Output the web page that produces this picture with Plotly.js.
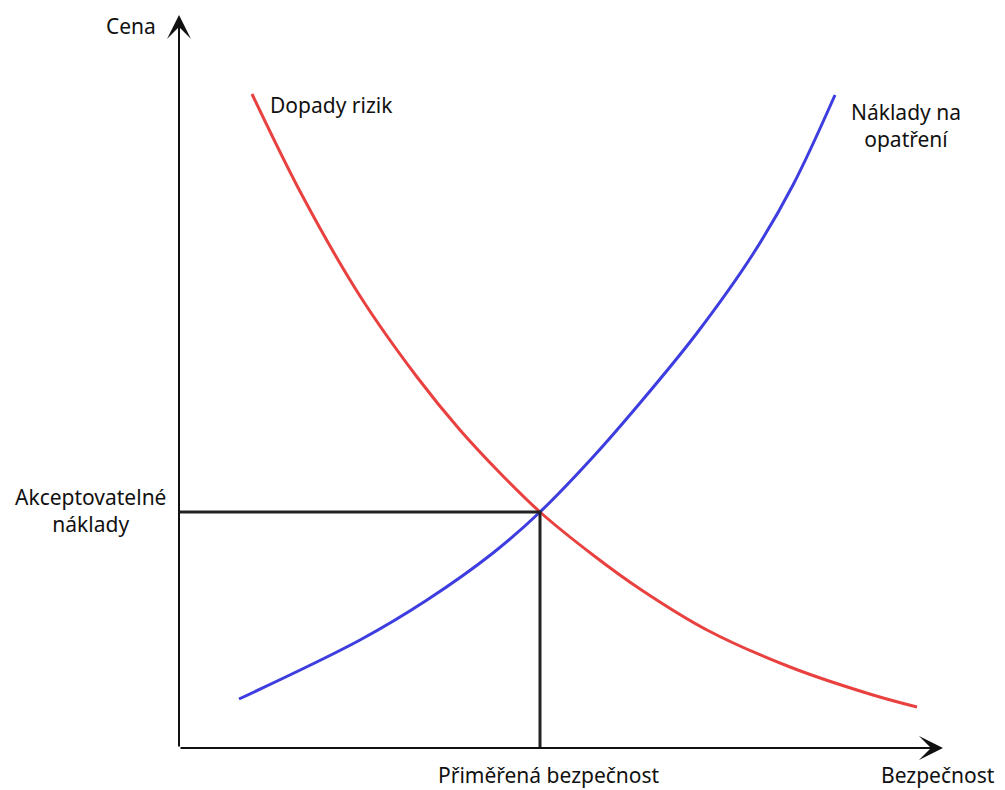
<!DOCTYPE html>
<html>
<head>
<meta charset="utf-8">
<script src="https://cdn.plot.ly/plotly-3.0.1.min.js"></script>
<style>html,body{margin:0;padding:0;background:#fff;}#chart{width:1005px;height:790px;}</style>
</head>
<body>
<div id="chart"></div>
<script>
// Data (x = Bezpečnost, y = Cena), in chart units
const riskX = [73, 124, 181, 238, 281, 321, 361, 414, 461, 528, 611, 694, 738];
const riskY = [654, 551, 452, 371, 318, 275, 236, 193, 159, 118, 81, 53, 41];
const costX = [60, 181, 248, 314, 361, 414, 461, 518, 574, 614, 656];
const costY = [49, 108, 148, 195, 236, 291, 345, 415, 494, 563, 653];
const optimumX = 361;
const optimumY = 236;
const axisMaxX = 764;
const axisMaxY = 733;
const labels = {
  yAxis: 'Cena',
  xAxis: 'Bezpečnost',
  risk: 'Dopady rizik',
  cost: 'Náklady na<br>opatření',
  acceptable: 'Akceptovatelné<br>náklady',
  adequate: 'Přiměřená bezpečnost'
};

const FONT = 'Noto Sans, Open Sans, sans-serif';
const traces = [
  {x: riskX, y: riskY, mode: 'lines', line: {color: '#e8413f', width: 3, shape: 'spline', smoothing: 1}, hoverinfo: 'skip'},
  {x: costX, y: costY, mode: 'lines', line: {color: '#3d3de0', width: 3, shape: 'spline', smoothing: 1}, hoverinfo: 'skip'},
  {x: [0, optimumX, optimumX], y: [optimumY, optimumY, 0], mode: 'lines', line: {color: '#222', width: 3}, hoverinfo: 'skip'}
];

const txt = (x, y, t, anchor) => ({x: x, y: y, xref: 'x', yref: 'y', text: t, showarrow: false,
  xanchor: anchor || 'center', yanchor: 'middle', font: {family: FONT, size: 21, color: '#111'}});

const layout = {
  width: 1005, height: 790,
  margin: {l: 0, r: 0, t: 0, b: 0},
  paper_bgcolor: '#fff', plot_bgcolor: '#fff',
  showlegend: false,
  xaxis: {range: [-179, 826], visible: false, fixedrange: true},
  yaxis: {range: [-42, 748], visible: false, fixedrange: true},
  annotations: [
    // axes with arrowheads
    {x: 0, y: axisMaxY, ax: 0, ay: 0, xref: 'x', yref: 'y', axref: 'x', ayref: 'y', text: '', showarrow: true,
     arrowhead: 3, arrowsize: 2, arrowwidth: 2, arrowcolor: '#111'},
    {x: axisMaxX, y: 0, ax: 0, ay: 0, xref: 'x', yref: 'y', axref: 'x', ayref: 'y', text: '', showarrow: true,
     arrowhead: 3, arrowsize: 2, arrowwidth: 2, arrowcolor: '#111'},
    txt(-48, 722, labels.yAxis),
    txt(818, -27, labels.xAxis, 'right'),
    txt(89, 643, labels.risk, 'left'),
    txt(727, 623, labels.cost),
    txt(-89, 238, labels.acceptable),
    txt(370, -27, labels.adequate)
  ]
};

Plotly.newPlot('chart', traces, layout, {displayModeBar: false, staticPlot: true});
</script>
</body>
</html>
